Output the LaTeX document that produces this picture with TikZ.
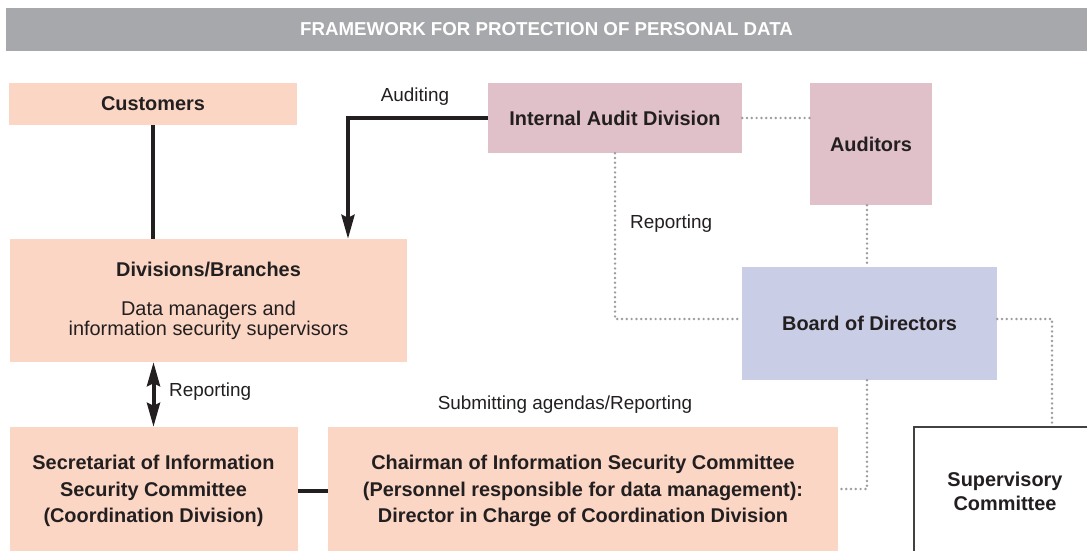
\documentclass[tikz,border=0pt]{standalone}
\usepackage{fontspec}
\setmainfont{Liberation Sans}
\usetikzlibrary{arrows.meta}

\definecolor{ink}{HTML}{231F20}
\definecolor{bargray}{HTML}{A7A8AB}
\definecolor{peach}{HTML}{FBD6C4}
\definecolor{rose}{HTML}{E0C0C9}
\definecolor{lilac}{HTML}{CACDE6}
\definecolor{dotgray}{HTML}{9B9C9E}

\tikzset{
  box/.style={rectangle, inner sep=0pt, align=center, text=ink,
    font=\fontsize{19.9}{26.5}\selectfont\bfseries},
  lbl/.style={inner sep=0pt, text=ink, font=\fontsize{18.9}{22}\selectfont},
  thickline/.style={ink, line width=4pt},
  dotline/.style={dotgray, line width=2.7pt, line cap=round,
    dash pattern=on 0pt off 4.8pt},
  headtip/.tip={Stealth[length=24pt,width=13pt,inset=3pt]}
}

\begin{document}
\begin{tikzpicture}[x=1pt, y=-1pt]
    \useasboundingbox (0,0) rectangle (1087,551);

    %title
    \node[box, fill=bargray, text=white, minimum width=1081pt, minimum height=43pt,
          font=\fontsize{18.7}{22}\selectfont\bfseries] (title) at (546.5,29.5)
         {FRAMEWORK FOR PROTECTION OF PERSONAL DATA};

    %left column
    \node[box, fill=peach, minimum width=288pt, minimum height=42pt] (customers)
         at (153,104) {Customers};
    \node[box, fill=peach, minimum width=397pt, minimum height=123pt,
          font=\fontsize{19.9}{20}\selectfont] (divisions) at (208.5,300.5) %
         {\textbf{Divisions/Branches}\\[19pt]Data managers and\\information security supervisors};
    \node[box, fill=peach, minimum width=288pt, minimum height=128pt] (secretariat)
         at (153.5,491) %
         {Secretariat of Information\\Security Committee\\(Coordination Division)};
    \node[box, fill=peach, minimum width=510pt, minimum height=128pt] (chairman)
         at (583,491) %
         {Chairman of Information Security Committee\\(Personnel responsible for data management):\\Director in Charge of Coordination Division};

    %audit side
    \node[box, fill=rose, minimum width=254pt, minimum height=70pt] (audit)
         at (615,118) {Internal Audit Division};
    \node[box, fill=rose, minimum width=122pt, minimum height=122pt] (auditors)
         at (871,144) {Auditors};
    \node[box, fill=lilac, minimum width=255pt, minimum height=113pt] (board)
         at (869.5,323.5) {Board of Directors};
    \node[box, draw=ink!85, line width=1.5pt, fill=white, minimum width=182pt,
          minimum height=128pt, font=\fontsize{19.9}{24}\selectfont\bfseries]
         (supervisory) at (1005,491) {Supervisory\\Committee};

    %labels
    \node[lbl] (auditing) at (415,97) {Auditing};
    \node[lbl, anchor=west] (reportleft) at (169,392) {Reporting};
    \node[lbl, anchor=west] (reportright) at (630,224) {Reporting};
    \node[lbl] (agendas) at (565,405) {Submitting agendas/Reporting};

    %solid connectors
    \coordinate (auditbend) at (348,118);
    \draw[thickline] (customers.south) -- (customers.south |- divisions.north);
    \draw[thickline, -headtip] (audit.west) -- (auditbend)
         -- (auditbend |- divisions.north);
    \draw[thickline, headtip-headtip] (secretariat.north |- divisions.south)
         -- (secretariat.north);
    \draw[thickline] (secretariat.east) -- (chairman.west);

    %dotted connectors
    \draw[dotline] (audit.east) -- (audit.east -| auditors.west);
    \draw[dotline] ([xshift=-4pt]auditors.south) -- ([xshift=-4pt]auditors.south |- board.north);
    \draw[dotline] (audit.south) |- ([yshift=4.5pt]board.west);
    \draw[dotline] ([yshift=4.5pt]board.east) -| ([xshift=47pt]supervisory.north);
    \draw[dotline] ([xshift=-2.5pt]board.south) |- ([yshift=2pt]chairman.east);
\end{tikzpicture}
\end{document}
